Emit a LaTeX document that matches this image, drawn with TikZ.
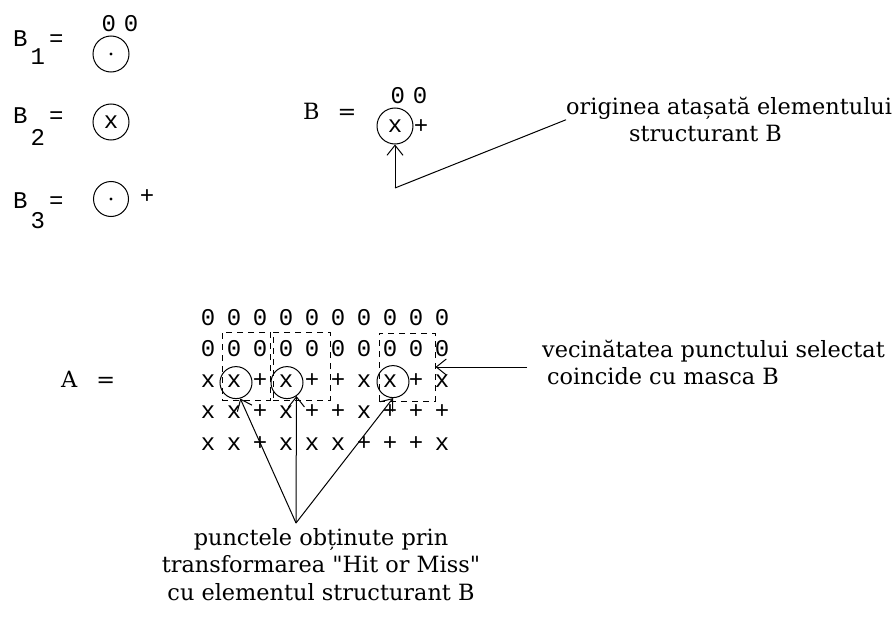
\documentclass[tikz,border=0pt]{standalone}
\usepackage{fontspec}
\setmainfont[Ligatures=TeXOff]{DejaVu Serif}
\newfontfamily\gridfont{Liberation Mono}
\usepackage{tikz}
\usetikzlibrary{arrows.meta, positioning}

\begin{document}
\begin{tikzpicture}[
    x=1pt, y=-1pt,
    cell/.style={anchor=base, inner sep=0pt, font=\gridfont\fontsize{24}{24}\selectfont},
    note/.style={inner sep=0pt, font=\fontsize{22.4}{27.5}\selectfont},
    mask/.style={draw, circle, line width=1pt, inner sep=0pt, minimum size=#1},
    mask/.default=32pt,
    window/.style={draw, dash pattern=on 6pt off 5pt, line width=1pt, inner sep=0pt, minimum height=68pt},
    hit/.style={-{Straight Barb[length=10pt, width=16pt]}, line width=1pt},
]
    \path[fill=white, use as bounding box] (0,0) rectangle (895,618);

    % Structuring elements B1, B2, B3
    \foreach \i/\y/\d in {1/47/18, 2/123/23, 3/208/20}
        \node[cell, anchor=base west] (lb\i) at (13,\y) {B\hspace{3pt}\raisebox{-\d pt}{\i}\hspace{4pt}=};
    \node[mask=36pt] (b1) at (111,54) {};
    \fill (b1.center) circle[radius=1.6pt];
    \node[cell] (z1) at (120,32) {0\hspace{8pt}0};
    \node[mask=36pt, font=\gridfont\fontsize{24}{24}\selectfont] (b2) at (111,122) {x};
    \node[mask=35pt] (b3) at (111,199) {};
    \fill (b3.center) circle[radius=1.6pt];
    \node[cell, anchor=center] (p3) at (147,197) {+};

    % Element B with its origin
    \node[note, anchor=base west] (lb) at (303,120) {B\hspace{18pt}=};
    \node[mask=36pt, font=\gridfont\fontsize{24}{24}\selectfont] (cb) at (395,126) {x};
    \node[cell] (zb) at (409,103) {0\hspace{8pt}0};
    \node[cell, anchor=center] (pb) at (421,127) {+};
    \node[note, anchor=north west, align=left] (lbl1) at (566,97)
        {originea atașată elementului\\\hspace*{63pt}structurant B};
    \coordinate (bend) at (395,188);
    \draw[hit] (bend) -- (cb.south);
    \draw[line width=1pt] (bend) -- (lbl1.west);

    % Image A
    \node[note, anchor=base west] (la) at (61,387) {A\hspace{19pt}=};
    \foreach \r/\row in {1/{0,0,0,0,0,0,0,0,0,0}, 2/{0,0,0,0,0,0,0,0,0,0},
                         3/{x,x,+,x,+,+,x,x,+,x}, 4/{x,x,+,x,+,+,x,+,+,+},
                         5/{x,x,+,x,x,x,+,+,+,x}}
        \foreach \s [count=\c from 0] in \row
            \node[cell] (m-\r-\c) at (208+26*\c, 325+31.3*\r-31.3) {\s};

    % Windows where the mask fits
    \node[window, minimum width=48pt] (w1) at (246,366) {};
    \node[window, minimum width=57pt] (w2) at (301.5,366) {};
    \node[window, minimum width=56pt] (w3) at (407,367) {};
    \node[mask] (c1) at ([xshift=2pt, yshift=5pt]m-3-1.base) {};
    \node[mask] (c2) at ([xshift=1pt, yshift=5pt]m-3-3.base) {};
    \node[mask] (c3) at ([xshift=3pt, yshift=6pt]m-3-7.base) {};

    % Notes
    \node[note, anchor=north west, align=left] (lbl2) at (542,340)
        {vecinătatea punctului selectat\\\hspace*{5pt}coincide cu masca B};
    \coordinate (tail) at (527,367);
    \draw[hit] (tail) -- (w3.east);

    \node[note, anchor=north, align=center] (lbl3) at (321,528)
        {punctele obținute prin\\transformarea "Hit or Miss"\\cu elementul structurant B};
    \coordinate (meet) at (296,523);
    \draw[hit] (meet) -- (c1.-75);
    \draw[hit] (meet) -- (c2.-55);
    \draw[hit] (meet) -- (c3.south);
\end{tikzpicture}
\end{document}
